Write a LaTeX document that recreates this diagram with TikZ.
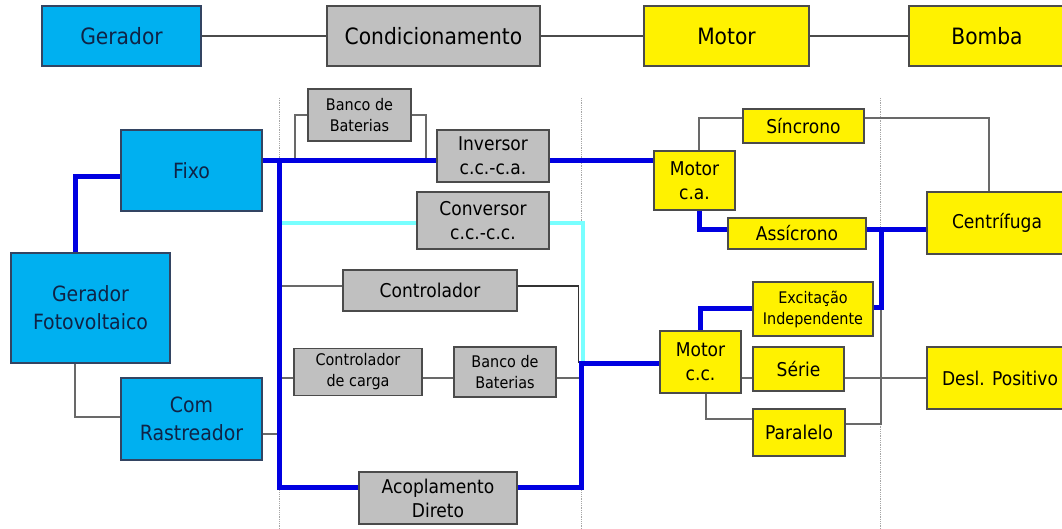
\documentclass[tikz,border=0pt]{standalone}
\usepackage{fontspec}
\setmainfont{DejaVu Sans}[FakeStretch=0.9]
\usepackage{tikz}
\usetikzlibrary{positioning,calc}
\definecolor{pvblue}{RGB}{0,176,240}
\definecolor{pvgray}{RGB}{192,192,192}
\definecolor{pvyellow}{RGB}{255,242,0}
\definecolor{busblue}{RGB}{0,0,225}
\definecolor{buscyan}{RGB}{120,255,255}
\definecolor{wiregray}{RGB}{105,105,105}
\definecolor{boxline}{RGB}{75,75,75}
\definecolor{navytext}{RGB}{15,35,70}

\begin{document}
\begin{tikzpicture}[x=1pt, y=-1pt,
        every node/.style={font=\fontsize{19}{24}\selectfont},
        box/.style={rectangle, draw=boxline, line width=1.3pt, inner sep=0pt, align=center},
        sz/.style 2 args={minimum width=#1pt, minimum height=#2pt},
        pvbox/.style={box, fill=pvblue, draw=navytext!85, text=navytext, font=\fontsize{21}{28}\selectfont},
        condbox/.style={box, fill=pvgray},
        smallbox/.style={box, fill=pvgray, font=\fontsize{16}{21}\selectfont},
        motbox/.style={box, fill=pvyellow},
        topbox/.style={box, font=\fontsize{22.5}{27}\selectfont},
        link/.style={draw=boxline, line width=2pt},
        wire/.style={draw=wiregray, line width=1.5pt},
        darkwire/.style={draw=black!80, line width=1.5pt},
        feed/.style={draw=buscyan, line width=4pt},
        bus/.style={draw=busblue, line width=5pt},
        divider/.style={draw=black!35, line width=0.8pt, densely dotted}
    ]
        \useasboundingbox (0,0) rectangle (1062,529);

        % stage dividers
        \foreach \gx in {279,581,880} \draw[divider] (\gx,98) -- (\gx,529);

        % top row
        \node[topbox, fill=pvblue, draw=navytext!85, text=navytext, sz={159}{60}] (ger) at (121.5,36) {Gerador};
        \node[topbox, fill=pvgray, sz={213}{60}] (cond) at (433.5,36) {Condicionamento};
        \node[topbox, fill=pvyellow, sz={165}{60}] (mot) at (726.5,36) {Motor};
        \node[topbox, fill=pvyellow, sz={156}{60}] (bomba) at (987,36) {Bomba};

        % generator
        \node[pvbox, sz={141}{81}] (fixo) at (191.5,170.5) {Fixo};
        \node[pvbox, sz={159}{110}] (gfv) at (90.5,308) {Gerador\\Fotovoltaico};
        \node[pvbox, sz={141}{82}] (rast) at (191.5,419) {Com\\Rastreador};

        % conditioning
        \node[smallbox, sz={103}{52}] (banco1) at (359.5,115) {Banco de\\Baterias};
        \node[condbox, sz={112}{52}] (inv) at (493,156) {Inversor\\c.c.-c.a.};
        \node[condbox, sz={132}{57}] (conv) at (483,220.5) {Conversor\\c.c.-c.c.};
        \node[condbox, sz={174}{41}] (ctrl) at (430,290.5) {Controlador};
        \node[smallbox, sz={128}{47}] (ccarga) at (358,372) {Controlador\\de carga};
        \node[smallbox, sz={102}{50}] (banco2) at (505,372) {Banco de\\Baterias};
        \node[condbox, sz={158}{52}] (acop) at (438,498) {Acoplamento\\Direto};

        % motors
        \node[motbox, sz={81}{59}] (mca) at (694.5,180.5) {Motor\\c.a.};
        \node[motbox, sz={121}{34}] (sinc) at (803.5,126) {Síncrono};
        \node[motbox, sz={138}{31}] (assi) at (797,233.5) {Assícrono};
        \node[smallbox, fill=pvyellow, sz={120}{54}] (exc) at (813,309) {Excitação\\Independente};
        \node[motbox, sz={81}{62}] (mcc) at (700.5,362) {Motor\\c.c.};
        \node[motbox, sz={91}{44}] (serie) at (798.5,369) {Série};
        \node[motbox, sz={92}{47}] (paral) at (799,432.5) {Paralelo};

        % pumps
        \node[motbox, sz={140}{62}] (centr) at (997,223) {Centrífuga};
        \node[motbox, sz={146}{62}] (desl) at (1000,378) {Desl. Positivo};

        \draw[link] (ger) -- (cond);
        \draw[link] (cond) -- (mot);
        \draw[link] (mot) -- (bomba);

        \coordinate (busTop) at (279,161);
        \coordinate (busBot) at (279,487);
        \coordinate (busR) at (581,487);
        \coordinate (busCC) at (581,363);
        \coordinate (gfvUp) at (75,177);
        \coordinate (gfvDn) at (75,417);
        \coordinate (rastR) at (279,434);
        \coordinate (batL) at (295,115);
        \coordinate (batR) at (426,115);
        \coordinate (cyL) at (279,223);
        \coordinate (cyR) at (582.5,223);
        \coordinate (ctrlY) at (279,286);
        \coordinate (ctrlR) at (578.5,286);
        \coordinate (chgY) at (279,378);
        \coordinate (chgR) at (580,378);
        \coordinate (caUp) at (699,118);
        \coordinate (caDn) at (699,230);
        \coordinate (pumpUp) at (989,118);
        \coordinate (busPump) at (881,230);
        \coordinate (busExc) at (881,307);
        \coordinate (ccUp) at (700,308);
        \coordinate (parDn) at (706,419);
        \coordinate (parR) at (881,424);

        % thin connections
        \draw[wire] (gfv.south -| gfvDn) |- (rast.west |- gfvDn);
        \draw[wire] (rast.east |- rastR) -- (rastR);
        \draw[wire] (batL |- busTop) |- (banco1.west |- batL);
        \draw[wire] (banco1.east |- batR) -| (batR |- busTop);
        \draw[wire] (ctrlY) -- (ctrl.west |- ctrlY);
        \draw[darkwire] (ctrl.east |- ctrlR) -- (ctrlR) -- (ctrlR |- busCC);
        \draw[wire] (chgY) -- (ccarga.west |- chgY);
        \draw[wire] (ccarga.east |- chgY) -- (banco2.west |- chgY);
        \draw[wire] (banco2.east |- chgY) -- (chgR);
        \draw[wire] (mca.north -| caUp) |- (sinc.west |- caUp);
        \draw[wire] (sinc.east |- pumpUp) -| (centr.north -| pumpUp);
        \draw[wire] (mcc.east |- desl.west) -- (serie.west |- desl.west);
        \draw[wire] (serie.east |- desl.west) -- (desl.west);
        \draw[wire] (mcc.south -| parDn) |- (paral.west |- parDn);
        \draw[wire] (paral.east |- parR) -- (parR) -- (busExc);

        % dc-dc path
        \draw[feed] (cyL) -- (conv.west |- cyL);
        \draw[feed] (conv.east |- cyR) -- (cyR) -- (cyR |- busCC);

        % main power path
        \draw[bus] (gfv.north -| gfvUp) |- (fixo.west |- gfvUp);
        \draw[bus] (fixo.east |- busTop) -- (inv.west |- busTop);
        \draw[bus] (inv.east |- busTop) -- (mca.west |- busTop);
        \draw[bus] (busTop) -- (busBot) -- (acop.west |- busBot);
        \draw[bus] (acop.east |- busBot) -- (busR) -- (busCC) -- (mcc.west |- busCC);
        \draw[bus] (mca.south -| caDn) |- (assi.west |- caDn);
        \draw[bus] (assi.east |- caDn) -- (centr.west |- caDn);
        \draw[bus] (busPump) -- (busExc) -- (exc.east |- busExc);
        \draw[bus] (mcc.north -| ccUp) |- (exc.west |- ccUp);
    \end{tikzpicture}
\end{document}
